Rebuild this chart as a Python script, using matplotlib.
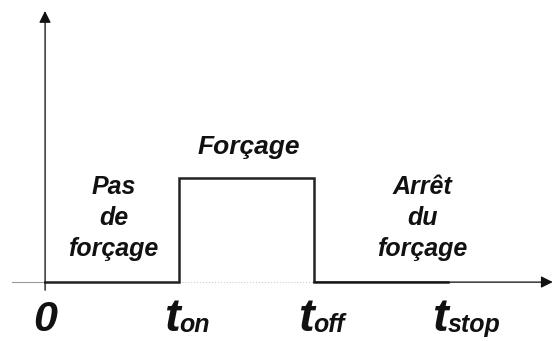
import matplotlib.pyplot as plt

# time marks and forcing level
t_marks = [0, 1, 2, 3]
t_labels = ["0", "t", "t", "t"]
t_subs = ["", "on", "off", "stop"]
force_x = [0, 1, 1, 2, 2, 3]
force_y = [0, 0, 1, 1, 0, 0]

zones = ["Pas\nde\nforçage", "Forçage", "Arrêt\ndu\nforçage"]

plt.rcParams['font.family'] = ['Liberation Sans', 'DejaVu Sans']

fig = plt.figure(figsize=(5.55, 3.41), dpi=100)
ax = fig.add_axes([0, 0, 1, 1])
ax.set_xlim(-0.335, 3.797)
ax.set_ylim(-0.567, 2.712)
ax.axis('off')

# axes with arrow heads
ax.plot([-0.246, t_marks[1]], [0, 0], color='#999999', lw=0.8)
ax.plot([t_marks[1], t_marks[2]], [0, 0], color='#cccccc', lw=0.8, ls=':')
ax.annotate('', xy=(3.78, 0), xytext=(t_marks[2], 0),
            arrowprops=dict(arrowstyle='-|>', color='#999999', lw=0.8,
                            mutation_scale=18, fc='#111111', ec='#111111',
                            shrinkA=0, shrinkB=0))
ax.annotate('', xy=(0, 2.606), xytext=(0, -0.077),
            arrowprops=dict(arrowstyle='-|>', color='#999999', lw=0.8,
                            mutation_scale=18, fc='#111111', ec='#111111',
                            shrinkA=0, shrinkB=0))
# redraw axis lines in grey over the black arrow shafts
ax.plot([t_marks[2], 3.72], [0, 0], color='#999999', lw=0.8)
ax.plot([0, 0], [-0.077, 2.54], color='#999999', lw=0.8)

ax.plot(force_x, force_y, color='#222222', lw=1.8, solid_joinstyle='miter')

tp = dict(fontweight='bold', style='italic', color='#111111')
ax.text(0.51, 0.615, zones[0], ha='center', va='center', fontsize=18,
        linespacing=1.36, **tp)
ax.text(1.52, 1.23, zones[1], ha='center', va='baseline', fontsize=19, **tp)
ax.text(2.81, 0.615, zones[2], ha='center', va='center', fontsize=18,
        linespacing=1.36, **tp)

for x, lab, sub in zip(t_marks, t_labels, t_subs):
    if sub == "":
        ax.text(x, -0.47, lab, ha='center', va='baseline', fontsize=31, **tp)
    else:
        ax.text(x, -0.47, lab, ha='right', va='baseline', fontsize=34, **tp)
        ax.text(x, -0.48, sub, ha='left', va='baseline', fontsize=18, **tp)

fig.savefig('out.png', dpi=100)
